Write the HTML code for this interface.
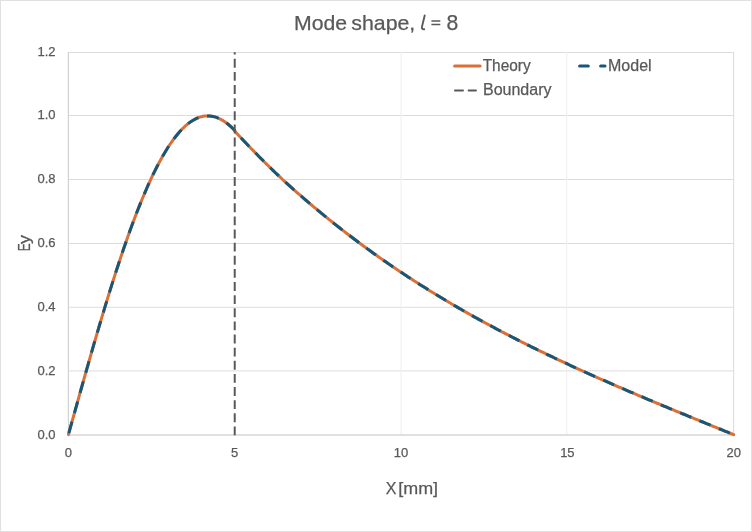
<!DOCTYPE html>
<html><head><meta charset="utf-8"><style>
html,body{margin:0;padding:0;background:#fff;}
svg{display:block;will-change:transform;}
text{font-family:"Liberation Sans", sans-serif;fill:#595959;stroke:#595959;stroke-width:0.25px;}
</style></head><body>
<svg width="752" height="532" viewBox="0 0 752 532">
<rect x="0.5" y="0.5" width="751" height="531" fill="#fff" stroke="#e0e0e0" stroke-width="1"/>
<text x="294.0" y="29.7" font-size="20.4" textLength="53.1" lengthAdjust="spacingAndGlyphs">Mode</text><text x="351.3" y="29.7" font-size="20.4" textLength="64.0" lengthAdjust="spacingAndGlyphs">shape,</text><text x="446.5" y="30.3" font-size="21.2">8</text><path d="M431.4,20.9 H440.3 M431.4,24.5 H440.3" stroke="#595959" stroke-width="1.45"/>
<path d="M424.7,15.5 L422.0,26.6 Q421.3,29.4 424.2,29.2" fill="none" stroke="#595959" stroke-width="1.9" stroke-linecap="round"/>
<g stroke-width="1">
<line x1="68.00" x2="734.00" y1="52.50" y2="52.50" stroke="#dcdcdc"/>
<line x1="68.00" x2="734.00" y1="115.50" y2="115.50" stroke="#dcdcdc"/>
<line x1="68.00" x2="734.00" y1="179.50" y2="179.50" stroke="#dcdcdc"/>
<line x1="68.00" x2="734.00" y1="243.50" y2="243.50" stroke="#dcdcdc"/>
<line x1="68.00" x2="734.00" y1="307.30" y2="307.30" stroke="#dcdcdc"/>
<line x1="68.00" x2="734.00" y1="370.90" y2="370.90" stroke="#dcdcdc"/>
<line x1="68.4" x2="68.4" y1="52" y2="435" stroke="#d2d2d2" stroke-width="1.2"/>
<line x1="401.1" x2="401.1" y1="52" y2="435" stroke="#f0f0f0" stroke-width="1.1"/>
<line x1="566.7" x2="566.7" y1="52" y2="435" stroke="#f0f0f0" stroke-width="1.1"/>
<line x1="733.6" x2="733.6" y1="52" y2="435" stroke="#dedede" stroke-width="1.1"/>
<line x1="68.00" x2="734.00" y1="435.0" y2="435.0" stroke="#d6d6d6" stroke-width="1.6"/>
</g>
<g font-size="13">
<text x="55.6" y="438.75" text-anchor="end">0.0</text>
<text x="55.6" y="374.65" text-anchor="end">0.2</text>
<text x="55.6" y="311.05" text-anchor="end">0.4</text>
<text x="55.6" y="247.25" text-anchor="end">0.6</text>
<text x="55.6" y="183.25" text-anchor="end">0.8</text>
<text x="55.6" y="119.25" text-anchor="end">1.0</text>
<text x="55.6" y="56.25" text-anchor="end">1.2</text>
<text x="68.40" y="456.8" text-anchor="middle">0</text>
<text x="234.73" y="456.8" text-anchor="middle">5</text>
<text x="401.05" y="456.8" text-anchor="middle">10</text>
<text x="567.38" y="456.8" text-anchor="middle">15</text>
<text x="733.70" y="456.8" text-anchor="middle">20</text>
</g>
<path d="M68.40,434.67 L70.06,428.69 L71.73,422.72 L73.39,416.75 L75.05,410.78 L76.72,404.83 L78.38,398.88 L80.04,392.95 L81.71,387.03 L83.37,381.13 L85.03,375.25 L86.70,369.39 L88.36,363.55 L90.02,357.74 L91.69,351.95 L93.35,346.19 L95.01,340.47 L96.68,334.77 L98.34,329.12 L100.00,323.50 L101.67,317.91 L103.33,312.37 L104.99,306.87 L106.65,301.42 L108.32,296.02 L109.98,290.66 L111.64,285.35 L113.31,280.10 L114.97,274.90 L116.63,269.75 L118.30,264.67 L119.96,259.64 L121.62,254.68 L123.29,249.78 L124.95,244.94 L126.61,240.17 L128.28,235.47 L129.94,230.84 L131.60,226.28 L133.27,221.80 L134.93,217.38 L136.59,213.05 L138.26,208.79 L139.92,204.61 L141.58,200.52 L143.25,196.50 L144.91,192.57 L146.57,188.73 L148.24,184.97 L149.90,181.30 L151.56,177.72 L153.23,174.22 L154.89,170.82 L156.55,167.52 L158.22,164.30 L159.88,161.18 L161.54,158.16 L163.21,155.24 L164.87,152.41 L166.53,149.68 L168.19,147.05 L169.86,144.53 L171.52,142.10 L173.18,139.78 L174.85,137.56 L176.51,135.45 L178.17,133.44 L179.84,131.54 L181.50,129.74 L183.16,128.06 L184.83,126.47 L186.49,125.00 L188.15,123.64 L189.82,122.38 L191.48,121.24 L193.14,120.21 L194.81,119.28 L196.47,118.47 L198.13,117.77 L199.80,117.18 L201.46,116.70 L203.12,116.33 L204.79,116.08 L206.45,115.93 L208.11,115.90 L209.78,115.98 L211.44,116.18 L213.10,116.48 L214.77,116.90 L216.43,117.43 L218.09,118.07 L219.76,118.82 L221.42,119.68 L223.08,120.66 L224.75,121.74 L226.41,122.93 L228.07,124.24 L229.74,125.65 L231.40,127.17 L233.06,128.80 L234.73,130.54 L236.39,133.02 L238.05,134.78 L239.71,136.53 L241.38,138.28 L243.04,140.02 L244.70,141.76 L246.37,143.50 L248.03,145.23 L249.69,146.96 L251.36,148.68 L253.02,150.40 L254.68,152.10 L256.35,153.81 L258.01,155.50 L259.67,157.19 L261.34,158.87 L263.00,160.54 L264.66,162.20 L266.33,163.85 L267.99,165.49 L269.65,167.13 L271.32,168.75 L272.98,170.36 L274.64,171.96 L276.31,173.55 L277.97,175.13 L279.63,176.70 L281.30,178.25 L282.96,179.79 L284.62,181.32 L286.29,182.84 L287.95,184.35 L289.61,185.85 L291.28,187.35 L292.94,188.84 L294.60,190.32 L296.27,191.79 L297.93,193.26 L299.59,194.72 L301.25,196.17 L302.92,197.62 L304.58,199.06 L306.24,200.49 L307.91,201.92 L309.57,203.34 L311.23,204.75 L312.90,206.16 L314.56,207.56 L316.22,208.95 L317.89,210.34 L319.55,211.72 L321.21,213.09 L322.88,214.46 L324.54,215.82 L326.20,217.18 L327.87,218.53 L329.53,219.87 L331.19,221.20 L332.86,222.54 L334.52,223.86 L336.18,225.18 L337.85,226.49 L339.51,227.80 L341.17,229.10 L342.84,230.39 L344.50,231.68 L346.16,232.96 L347.83,234.24 L349.49,235.51 L351.15,236.77 L352.82,238.03 L354.48,239.29 L356.14,240.54 L357.81,241.78 L359.47,243.02 L361.13,244.25 L362.80,245.47 L364.46,246.69 L366.12,247.91 L367.79,249.12 L369.45,250.32 L371.11,251.52 L372.77,252.72 L374.44,253.91 L376.10,255.09 L377.76,256.27 L379.43,257.44 L381.09,258.61 L382.75,259.77 L384.42,260.93 L386.08,262.08 L387.74,263.23 L389.41,264.38 L391.07,265.51 L392.73,266.65 L394.40,267.78 L396.06,268.90 L397.72,270.02 L399.39,271.13 L401.05,272.24 L402.71,273.35 L404.38,274.45 L406.04,275.54 L407.70,276.63 L409.37,277.72 L411.03,278.80 L412.69,279.88 L414.36,280.95 L416.02,282.02 L417.68,283.09 L419.35,284.15 L421.01,285.20 L422.67,286.25 L424.34,287.30 L426.00,288.34 L427.66,289.38 L429.33,290.41 L430.99,291.44 L432.65,292.47 L434.32,293.49 L435.98,294.51 L437.64,295.52 L439.30,296.53 L440.97,297.54 L442.63,298.54 L444.29,299.54 L445.96,300.53 L447.62,301.52 L449.28,302.50 L450.95,303.48 L452.61,304.46 L454.27,305.43 L455.94,306.40 L457.60,307.37 L459.26,308.33 L460.93,309.29 L462.59,310.24 L464.25,311.19 L465.92,312.14 L467.58,313.08 L469.24,314.02 L470.91,314.96 L472.57,315.89 L474.23,316.82 L475.90,317.74 L477.56,318.66 L479.22,319.58 L480.89,320.50 L482.55,321.41 L484.21,322.31 L485.88,323.22 L487.54,324.12 L489.20,325.02 L490.87,325.91 L492.53,326.80 L494.19,327.69 L495.86,328.58 L497.52,329.46 L499.18,330.34 L500.85,331.21 L502.51,332.08 L504.17,332.95 L505.83,333.82 L507.50,334.68 L509.16,335.54 L510.82,336.40 L512.49,337.25 L514.15,338.11 L515.81,338.95 L517.48,339.80 L519.14,340.64 L520.80,341.48 L522.47,342.32 L524.13,343.15 L525.79,343.99 L527.46,344.82 L529.12,345.64 L530.78,346.47 L532.45,347.29 L534.11,348.11 L535.77,348.92 L537.44,349.74 L539.10,350.55 L540.76,351.36 L542.43,352.16 L544.09,352.97 L545.75,353.77 L547.42,354.57 L549.08,355.36 L550.74,356.16 L552.41,356.95 L554.07,357.74 L555.73,358.53 L557.40,359.31 L559.06,360.09 L560.72,360.88 L562.39,361.65 L564.05,362.43 L565.71,363.21 L567.38,363.98 L569.04,364.75 L570.70,365.52 L572.36,366.28 L574.03,367.05 L575.69,367.81 L577.35,368.57 L579.02,369.33 L580.68,370.08 L582.34,370.84 L584.01,371.59 L585.67,372.34 L587.33,373.09 L589.00,373.84 L590.66,374.59 L592.32,375.33 L593.99,376.07 L595.65,376.81 L597.31,377.55 L598.98,378.29 L600.64,379.02 L602.30,379.76 L603.97,380.49 L605.63,381.22 L607.29,381.95 L608.96,382.68 L610.62,383.41 L612.28,384.13 L613.95,384.86 L615.61,385.58 L617.27,386.30 L618.94,387.02 L620.60,387.74 L622.26,388.45 L623.93,389.17 L625.59,389.88 L627.25,390.60 L628.92,391.31 L630.58,392.02 L632.24,392.73 L633.90,393.44 L635.57,394.14 L637.23,394.85 L638.89,395.56 L640.56,396.26 L642.22,396.96 L643.88,397.67 L645.55,398.37 L647.21,399.07 L648.87,399.77 L650.54,400.46 L652.20,401.16 L653.86,401.86 L655.53,402.55 L657.19,403.25 L658.85,403.94 L660.52,404.63 L662.18,405.33 L663.84,406.02 L665.51,406.71 L667.17,407.40 L668.83,408.09 L670.50,408.78 L672.16,409.46 L673.82,410.15 L675.49,410.84 L677.15,411.53 L678.81,412.21 L680.48,412.90 L682.14,413.58 L683.80,414.26 L685.47,414.95 L687.13,415.63 L688.79,416.31 L690.46,417.00 L692.12,417.68 L693.78,418.36 L695.45,419.04 L697.11,419.72 L698.77,420.40 L700.44,421.08 L702.10,421.76 L703.76,422.44 L705.42,423.12 L707.09,423.80 L708.75,424.48 L710.41,425.16 L712.08,425.84 L713.74,426.52 L715.40,427.20 L717.07,427.88 L718.73,428.56 L720.39,429.24 L722.06,429.92 L723.72,430.59 L725.38,431.27 L727.05,431.95 L728.71,432.63 L730.37,433.31 L732.04,433.99 L733.70,434.67" fill="none" stroke="#da7038" stroke-width="3" stroke-linejoin="round" stroke-linecap="round"/>
<path d="M68.40,434.67 L70.06,428.69 L71.73,422.72 L73.39,416.75 L75.05,410.78 L76.72,404.83 L78.38,398.88 L80.04,392.95 L81.71,387.03 L83.37,381.13 L85.03,375.25 L86.70,369.39 L88.36,363.55 L90.02,357.74 L91.69,351.95 L93.35,346.19 L95.01,340.47 L96.68,334.77 L98.34,329.12 L100.00,323.50 L101.67,317.91 L103.33,312.37 L104.99,306.87 L106.65,301.42 L108.32,296.02 L109.98,290.66 L111.64,285.35 L113.31,280.10 L114.97,274.90 L116.63,269.75 L118.30,264.67 L119.96,259.64 L121.62,254.68 L123.29,249.78 L124.95,244.94 L126.61,240.17 L128.28,235.47 L129.94,230.84 L131.60,226.28 L133.27,221.80 L134.93,217.38 L136.59,213.05 L138.26,208.79 L139.92,204.61 L141.58,200.52 L143.25,196.50 L144.91,192.57 L146.57,188.73 L148.24,184.97 L149.90,181.30 L151.56,177.72 L153.23,174.22 L154.89,170.82 L156.55,167.52 L158.22,164.30 L159.88,161.18 L161.54,158.16 L163.21,155.24 L164.87,152.41 L166.53,149.68 L168.19,147.05 L169.86,144.53 L171.52,142.10 L173.18,139.78 L174.85,137.56 L176.51,135.45 L178.17,133.44 L179.84,131.54 L181.50,129.74 L183.16,128.06 L184.83,126.47 L186.49,125.00 L188.15,123.64 L189.82,122.38 L191.48,121.24 L193.14,120.21 L194.81,119.28 L196.47,118.47 L198.13,117.77 L199.80,117.18 L201.46,116.70 L203.12,116.33 L204.79,116.08 L206.45,115.93 L208.11,115.90 L209.78,115.98 L211.44,116.18 L213.10,116.48 L214.77,116.90 L216.43,117.43 L218.09,118.07 L219.76,118.82 L221.42,119.68 L223.08,120.66 L224.75,121.74 L226.41,122.93 L228.07,124.24 L229.74,125.65 L231.40,127.17 L233.06,128.80 L234.73,130.54 L236.39,133.02 L238.05,134.78 L239.71,136.53 L241.38,138.28 L243.04,140.02 L244.70,141.76 L246.37,143.50 L248.03,145.23 L249.69,146.96 L251.36,148.68 L253.02,150.40 L254.68,152.10 L256.35,153.81 L258.01,155.50 L259.67,157.19 L261.34,158.87 L263.00,160.54 L264.66,162.20 L266.33,163.85 L267.99,165.49 L269.65,167.13 L271.32,168.75 L272.98,170.36 L274.64,171.96 L276.31,173.55 L277.97,175.13 L279.63,176.70 L281.30,178.25 L282.96,179.79 L284.62,181.32 L286.29,182.84 L287.95,184.35 L289.61,185.85 L291.28,187.35 L292.94,188.84 L294.60,190.32 L296.27,191.79 L297.93,193.26 L299.59,194.72 L301.25,196.17 L302.92,197.62 L304.58,199.06 L306.24,200.49 L307.91,201.92 L309.57,203.34 L311.23,204.75 L312.90,206.16 L314.56,207.56 L316.22,208.95 L317.89,210.34 L319.55,211.72 L321.21,213.09 L322.88,214.46 L324.54,215.82 L326.20,217.18 L327.87,218.53 L329.53,219.87 L331.19,221.20 L332.86,222.54 L334.52,223.86 L336.18,225.18 L337.85,226.49 L339.51,227.80 L341.17,229.10 L342.84,230.39 L344.50,231.68 L346.16,232.96 L347.83,234.24 L349.49,235.51 L351.15,236.77 L352.82,238.03 L354.48,239.29 L356.14,240.54 L357.81,241.78 L359.47,243.02 L361.13,244.25 L362.80,245.47 L364.46,246.69 L366.12,247.91 L367.79,249.12 L369.45,250.32 L371.11,251.52 L372.77,252.72 L374.44,253.91 L376.10,255.09 L377.76,256.27 L379.43,257.44 L381.09,258.61 L382.75,259.77 L384.42,260.93 L386.08,262.08 L387.74,263.23 L389.41,264.38 L391.07,265.51 L392.73,266.65 L394.40,267.78 L396.06,268.90 L397.72,270.02 L399.39,271.13 L401.05,272.24 L402.71,273.35 L404.38,274.45 L406.04,275.54 L407.70,276.63 L409.37,277.72 L411.03,278.80 L412.69,279.88 L414.36,280.95 L416.02,282.02 L417.68,283.09 L419.35,284.15 L421.01,285.20 L422.67,286.25 L424.34,287.30 L426.00,288.34 L427.66,289.38 L429.33,290.41 L430.99,291.44 L432.65,292.47 L434.32,293.49 L435.98,294.51 L437.64,295.52 L439.30,296.53 L440.97,297.54 L442.63,298.54 L444.29,299.54 L445.96,300.53 L447.62,301.52 L449.28,302.50 L450.95,303.48 L452.61,304.46 L454.27,305.43 L455.94,306.40 L457.60,307.37 L459.26,308.33 L460.93,309.29 L462.59,310.24 L464.25,311.19 L465.92,312.14 L467.58,313.08 L469.24,314.02 L470.91,314.96 L472.57,315.89 L474.23,316.82 L475.90,317.74 L477.56,318.66 L479.22,319.58 L480.89,320.50 L482.55,321.41 L484.21,322.31 L485.88,323.22 L487.54,324.12 L489.20,325.02 L490.87,325.91 L492.53,326.80 L494.19,327.69 L495.86,328.58 L497.52,329.46 L499.18,330.34 L500.85,331.21 L502.51,332.08 L504.17,332.95 L505.83,333.82 L507.50,334.68 L509.16,335.54 L510.82,336.40 L512.49,337.25 L514.15,338.11 L515.81,338.95 L517.48,339.80 L519.14,340.64 L520.80,341.48 L522.47,342.32 L524.13,343.15 L525.79,343.99 L527.46,344.82 L529.12,345.64 L530.78,346.47 L532.45,347.29 L534.11,348.11 L535.77,348.92 L537.44,349.74 L539.10,350.55 L540.76,351.36 L542.43,352.16 L544.09,352.97 L545.75,353.77 L547.42,354.57 L549.08,355.36 L550.74,356.16 L552.41,356.95 L554.07,357.74 L555.73,358.53 L557.40,359.31 L559.06,360.09 L560.72,360.88 L562.39,361.65 L564.05,362.43 L565.71,363.21 L567.38,363.98 L569.04,364.75 L570.70,365.52 L572.36,366.28 L574.03,367.05 L575.69,367.81 L577.35,368.57 L579.02,369.33 L580.68,370.08 L582.34,370.84 L584.01,371.59 L585.67,372.34 L587.33,373.09 L589.00,373.84 L590.66,374.59 L592.32,375.33 L593.99,376.07 L595.65,376.81 L597.31,377.55 L598.98,378.29 L600.64,379.02 L602.30,379.76 L603.97,380.49 L605.63,381.22 L607.29,381.95 L608.96,382.68 L610.62,383.41 L612.28,384.13 L613.95,384.86 L615.61,385.58 L617.27,386.30 L618.94,387.02 L620.60,387.74 L622.26,388.45 L623.93,389.17 L625.59,389.88 L627.25,390.60 L628.92,391.31 L630.58,392.02 L632.24,392.73 L633.90,393.44 L635.57,394.14 L637.23,394.85 L638.89,395.56 L640.56,396.26 L642.22,396.96 L643.88,397.67 L645.55,398.37 L647.21,399.07 L648.87,399.77 L650.54,400.46 L652.20,401.16 L653.86,401.86 L655.53,402.55 L657.19,403.25 L658.85,403.94 L660.52,404.63 L662.18,405.33 L663.84,406.02 L665.51,406.71 L667.17,407.40 L668.83,408.09 L670.50,408.78 L672.16,409.46 L673.82,410.15 L675.49,410.84 L677.15,411.53 L678.81,412.21 L680.48,412.90 L682.14,413.58 L683.80,414.26 L685.47,414.95 L687.13,415.63 L688.79,416.31 L690.46,417.00 L692.12,417.68 L693.78,418.36 L695.45,419.04 L697.11,419.72 L698.77,420.40 L700.44,421.08 L702.10,421.76 L703.76,422.44 L705.42,423.12 L707.09,423.80 L708.75,424.48 L710.41,425.16 L712.08,425.84 L713.74,426.52 L715.40,427.20 L717.07,427.88 L718.73,428.56 L720.39,429.24 L722.06,429.92 L723.72,430.59 L725.38,431.27 L727.05,431.95 L728.71,432.63 L730.37,433.31 L732.04,433.99 L733.70,434.67" fill="none" stroke="#175878" stroke-width="3" stroke-linejoin="round" stroke-dasharray="11.945 8.959" stroke-dashoffset="-1.6"/>
<line x1="234.73" x2="234.73" y1="435.37" y2="52.14600000000007" stroke="#595959" stroke-width="2" stroke-dasharray="8.9 4.23"/>
<g font-size="16">
<line x1="454.6" x2="480.1" y1="66" y2="66" stroke="#da7038" stroke-width="3" stroke-linecap="round"/>
<text x="482.7" y="70.8" textLength="48" lengthAdjust="spacingAndGlyphs">Theory</text>
<path d="M579.6,66 H588.3 M600.6,66 H605.0" stroke="#175878" stroke-width="3" stroke-linecap="round"/>
<text x="608" y="70.6">Model</text>
<path d="M455,90.4 H463 M468.6,90.4 H475.9" stroke="#595959" stroke-width="2" stroke-linecap="round"/>
<text x="483" y="94.8">Boundary</text>
<text x="385.7" y="494.4">X</text><text x="398.3" y="494.4" textLength="39.8" lengthAdjust="spacingAndGlyphs">[mm]</text>
<text transform="translate(29.9,251.3) rotate(-90)" textLength="8.0" lengthAdjust="spacingAndGlyphs">E</text><text transform="translate(29.9,244.0) rotate(-90)" textLength="9.0" lengthAdjust="spacingAndGlyphs">y</text>
</g>
</svg>
</body></html>
